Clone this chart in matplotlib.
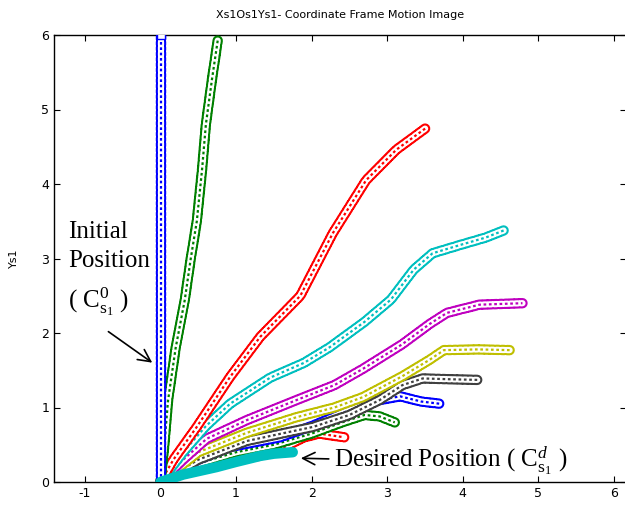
import matplotlib
matplotlib.use("Agg")
import matplotlib.pyplot as plt
import matplotlib.patheffects as pe

# --- trajectory data (x, y in s1 frame) ---
blue1_x = [0.0, 0.0, 0.0]
blue1_y = [0.0, 3.0, 6.0]

green1_x = [0.0, 0.05, 0.10, 0.20, 0.32, 0.40, 0.48, 0.55, 0.60, 0.68, 0.76]
green1_y = [0.0, 0.50, 1.10, 1.80, 2.44, 3.00, 3.50, 4.20, 4.80, 5.40, 5.95]

red1_x = [0.0, 0.17, 0.48, 0.92, 1.32, 1.85, 2.28, 2.72, 3.12, 3.51]
red1_y = [0.0, 0.30, 0.74, 1.41, 1.95, 2.50, 3.34, 4.05, 4.46, 4.75]

cyan1_x = [0.0, 0.30, 0.60, 0.92, 1.45, 1.90, 2.24, 2.70, 3.05, 3.35, 3.60, 3.96, 4.30, 4.55]
cyan1_y = [0.0, 0.40, 0.75, 1.05, 1.40, 1.60, 1.81, 2.15, 2.45, 2.85, 3.07, 3.18, 3.28, 3.38]

mag_x = [0.0, 0.30, 0.61, 1.14, 1.80, 2.30, 2.68, 3.20, 3.56, 3.79, 4.22, 4.79]
mag_y = [0.0, 0.30, 0.58, 0.83, 1.10, 1.30, 1.52, 1.85, 2.12, 2.27, 2.38, 2.40]

yel_x = [0.0, 0.50, 1.14, 1.80, 2.30, 2.68, 3.20, 3.56, 3.75, 4.20, 4.62]
yel_y = [0.0, 0.40, 0.66, 0.87, 1.00, 1.14, 1.42, 1.64, 1.77, 1.78, 1.77]

gray_x = [0.0, 0.50, 1.14, 1.60, 2.02, 2.50, 2.90, 3.20, 3.47, 3.80, 4.22]
gray_y = [0.0, 0.30, 0.55, 0.65, 0.74, 0.90, 1.10, 1.30, 1.39, 1.38, 1.37]

blue2_x = [0.0, 0.50, 0.92, 1.58, 2.00, 2.47, 2.90, 3.17, 3.45, 3.70]
blue2_y = [0.0, 0.30, 0.47, 0.60, 0.75, 0.95, 1.10, 1.15, 1.08, 1.05]

green2_x = [0.0, 0.50, 1.00, 1.50, 2.00, 2.40, 2.70, 2.90, 3.10]
green2_y = [0.0, 0.25, 0.40, 0.50, 0.65, 0.80, 0.90, 0.88, 0.80]

red2_x = [0.0, 0.50, 1.00, 1.30, 1.60, 1.90, 2.10, 2.43]
red2_y = [0.0, 0.20, 0.30, 0.35, 0.45, 0.60, 0.65, 0.60]

cyan2_x = [0.0, 0.30, 0.74, 1.00, 1.32, 1.50, 1.75]
cyan2_y = [0.0, 0.10, 0.20, 0.27, 0.35, 0.38, 0.40]

# hollow "tube" look for the dense circle/square marker trails
hollow = [(blue1_x, blue1_y, '#0000ff'),
          (green1_x, green1_y, '#008000'),
          (red1_x, red1_y, '#ff0000'),
          (cyan1_x, cyan1_y, '#00bfbf'),
          (mag_x, mag_y, '#bf00bf'),
          (yel_x, yel_y, '#bfbf00'),
          (gray_x, gray_y, '#404040'),
          (blue2_x, blue2_y, '#0000ff'),
          (green2_x, green2_y, '#008000'),
          (red2_x, red2_y, '#ff0000')]

plt.rcParams['mathtext.fontset'] = 'custom'
plt.rcParams['mathtext.rm'] = 'Liberation Serif'
plt.rcParams['mathtext.it'] = 'Liberation Serif:italic'
plt.rcParams['axes.unicode_minus'] = False

fig = plt.figure(figsize=(6.25, 5.08), dpi=100)
ax = fig.add_axes([54 / 625, 26 / 508, 572 / 625, 447 / 508])

for xs, ys, c in hollow[::-1]:
    ax.plot(xs, ys, color=c, lw=1.6, ls=(0, (1.2, 1.2)), solid_capstyle='round',
            path_effects=[pe.Stroke(linewidth=7.5, foreground=c, capstyle='round'),
                          pe.Stroke(linewidth=4.5, foreground='white', capstyle='round'),
                          pe.Normal()], zorder=3)

ax.plot(cyan2_x, cyan2_y, color='#00bfbf', lw=7.5, solid_capstyle='round', zorder=4)
ax.plot(blue1_x[-1:], blue1_y[-1:], marker='s', ms=6, mfc='white', mec='#0000ff', zorder=5)

ax.set_xlim(-1.41, 6.16)
ax.set_ylim(0, 6)
ax.set_xticks(range(-1, 7))
ax.set_yticks(range(0, 7))
ax.tick_params(direction='in', length=4, top=True, right=True, labelsize=9)
for s in ax.spines.values():
    s.set_linewidth(1.0)

ax.set_title('Xs1Os1Ys1- Coordinate Frame Motion Image', fontsize=8, pad=12)
ax.set_ylabel('Ys1', fontsize=8, labelpad=16)

serif = 'Liberation Serif'
ax.text(-1.22, 3.36, 'Initial', fontsize=18, family=serif, va='center', ha='left', zorder=6)
ax.text(-1.22, 2.97, 'Position', fontsize=18, family=serif, va='center', ha='left', zorder=6)
ax.text(-1.22, 2.42, r'( $\mathrm{C}^{0}_{\mathrm{s}_{1}}$ )', fontsize=18, family=serif,
        va='center', ha='left', zorder=6)
ax.annotate('', xy=(-0.08, 1.58), xytext=(-0.72, 2.04),
            arrowprops=dict(arrowstyle='->', lw=1.2, color='black', mutation_scale=22))

ax.annotate('Desired Position ( $\\mathrm{C}^{d}_{\\mathrm{s}_{1}}$ )', xy=(1.82, 0.32),
            xytext=(2.3, 0.27), fontsize=18, family=serif, va='center', ha='left',
            arrowprops=dict(arrowstyle='->', lw=1.2, color='black', mutation_scale=22),
            zorder=6)

fig.savefig('out.png', dpi=100)
